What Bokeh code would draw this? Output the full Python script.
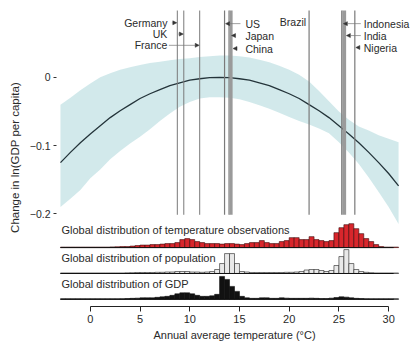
import numpy as np
from bokeh.plotting import figure
from bokeh.models import FixedTicker, Title, Arrow, NormalHead
from bokeh.core.properties import value
from bokeh.embed import file_html
from bokeh.resources import INLINE

# ---------------- data ----------------
temps = [-3, -2, -1, 0, 1, 2, 3, 4, 5, 6, 7, 8, 9, 10, 11, 12, 13, 14, 15, 16,
         17, 18, 19, 20, 21, 22, 23, 24, 25, 26, 27, 28, 29, 30, 31]
effect = [-0.125, -0.110, -0.096, -0.083, -0.071, -0.059, -0.049, -0.040, -0.031, -0.024,
          -0.018, -0.012, -0.008, -0.004, -0.002, -0.0005, 0.0, -0.0005, -0.002, -0.004,
          -0.008, -0.012, -0.018, -0.024, -0.031, -0.040, -0.049, -0.059, -0.071, -0.083,
          -0.096, -0.110, -0.125, -0.141, -0.159]
band_upper = [-0.040, -0.030, -0.019, -0.009, 0.000, 0.006, 0.011, 0.015, 0.018, 0.021,
              0.023, 0.025, 0.027, 0.028, 0.030, 0.031, 0.032, 0.032, 0.031, 0.029,
              0.026, 0.022, 0.017, 0.011, 0.004, -0.006, -0.020, -0.035, -0.050, -0.062,
              -0.072, -0.078, -0.085, -0.090, -0.095]
band_lower = [-0.190, -0.178, -0.165, -0.148, -0.135, -0.120, -0.108, -0.097, -0.087, -0.076,
              -0.064, -0.053, -0.043, -0.036, -0.031, -0.029, -0.029, -0.030, -0.032, -0.036,
              -0.041, -0.046, -0.052, -0.058, -0.064, -0.069, -0.075, -0.082, -0.095, -0.110,
              -0.127, -0.147, -0.168, -0.190, -0.215]

countries = ["Germany", "UK", "France", "US", "Japan", "China", "Brazil", "Indonesia", "India", "Nigeria"]
country_temp = [8.75, 9.4, 11.0, 13.5, 13.95, 14.15, 22.0, 25.3, 25.55, 26.6]
country_weight = [1.0, 1.0, 1.0, 1.2, 1.2, 3.2, 1.2, 1.5, 3.5, 1.2]

# histograms: bins of 0.5 degC from -3 to 31 (heights in relative units)
hist_left_edge = -3.0
hist_bin = 0.5
obs_hist = [0.5, 0.5, 0.5, 0.5, 0.5, 0.5, 0.5, 0.5, 0.5, 0.5,
            0.7, 0.8, 1, 1, 1.5, 2, 2.5, 2.5, 3, 3,
            3.5, 4, 4, 5, 8, 9, 8, 6, 5, 4,
            4, 4, 3.5, 4, 4, 3.5, 3, 4, 5, 5,
            7, 5, 4, 4, 6, 7, 10, 10, 8, 8,
            11, 8, 7, 6, 7, 15, 20, 23, 24, 19,
            14, 9, 6, 3, 1, 0.5, 0.5, 0.5]
pop_hist = [0.5, 0.5, 0.5, 0.5, 0.5, 0.5, 0.5, 0.5, 0.5, 0.5,
            0.5, 0.5, 0.5, 0.7, 0.8, 1, 1, 1, 1, 1.2,
            1.2, 1.5, 1.5, 2, 2, 2, 1.5, 1.5, 1.2, 1.5,
            2, 4, 10, 20, 20, 10, 2, 1.5, 1, 1,
            1, 1, 1, 1, 1, 1.2, 1.2, 1.5, 2, 3.5,
            4, 4, 3, 2, 3, 8, 17, 24, 10, 4,
            2, 1.2, 0.8, 0.5, 0.5, 0.5, 0.5, 0.5]
gdp_hist = [0.5, 0.5, 0.5, 0.5, 0.5, 0.5, 0.5, 0.5, 0.5, 0.5,
            0.5, 0.5, 0.6, 0.8, 1, 1.2, 1.5, 1.5, 1.5, 2,
            2.5, 3, 4, 5.5, 6.5, 6.5, 5.5, 4, 3, 3,
            3.5, 5, 23, 20, 13, 8, 3, 1.5, 1, 1,
            1.5, 1.5, 1, 1, 1.5, 1.2, 1, 1, 1, 1,
            1.2, 1, 0.8, 0.8, 1.2, 1.8, 2.5, 2.2, 1.5, 1,
            0.8, 0.6, 0.5, 0.5, 0.5, 0.5, 0.5, 0.5]
hist_titles = ["Global distribution of temperature observations",
               "Global distribution of population",
               "Global distribution of GDP"]

x_ticks = [0, 5, 10, 15, 20, 25, 30]
y_ticks = [0, -0.1, -0.2]

# ---------------- figure ----------------
FONT = "Liberation Sans"
TXT = "#2a2a2a"

p = figure(width=412, height=343, x_range=(-3.4, 32.4), y_range=(-0.336, 0.101),
           output_backend="svg", toolbar_location=None, tools="")
p.min_border_left = 55
p.min_border_right = 0
p.min_border_top = 8
p.min_border_bottom = 36
p.outline_line_color = None
p.xgrid.visible = False
p.ygrid.visible = False
p.background_fill_color = "white"
p.border_fill_color = "white"

# confidence band and response curve
p.varea(x=temps, y1=band_lower, y2=band_upper, fill_color="#cde7e9", fill_alpha=0.9)
p.line(x=temps, y=effect, line_color="#24343a", line_width=1.3)

# country lines
line_top, line_bottom = 0.098, -0.2015
for t, w in zip(country_temp, country_weight):
    col = "#9a9a9a" if w > 2 else "#7a7a7a"
    p.segment(x0=[t], x1=[t], y0=[line_top], y1=[line_bottom], line_color=col, line_width=w)

# country labels
lab_fs = "10.5px"
left_side = {"Germany": (7.75, 0.080), "UK": (7.75, 0.0635), "France": (7.75, 0.047),
             "Brazil": (21.7, 0.081)}
right_side = {"US": (15.6, 0.0788), "Japan": (15.6, 0.0613), "China": (15.6, 0.0423),
              "Indonesia": (27.5, 0.0788), "India": (27.5, 0.0613), "Nigeria": (27.5, 0.0438)}
for name, (x, y) in left_side.items():
    p.text(x=[x], y=[y], text=[name], text_align="right", text_baseline="middle",
           text_font=value(FONT), text_font_size=lab_fs, text_color=TXT)
for name, (x, y) in right_side.items():
    p.text(x=[x], y=[y], text=[name], text_align="left", text_baseline="middle",
           text_font=value(FONT), text_font_size=lab_fs, text_color=TXT)

pointers = [(8.2, 0.080, 8.7), (8.85, 0.0635, 9.35), (7.9, 0.047, 10.95),
            (15.1, 0.0788, 13.6), (14.55, 0.0613, 14.2), (14.7, 0.0423, 14.35),
            (27.2, 0.0788, 25.45), (27.2, 0.0613, 25.75), (26.95, 0.0438, 26.7)]
for xs, y, xe in pointers:
    p.add_layout(Arrow(end=NormalHead(size=4, fill_color="#333333", line_color="#333333", line_width=0.5),
                       x_start=xs, y_start=y, x_end=xe, y_end=y,
                       line_color="#777777", line_width=0.7))

# histograms
centers = hist_left_edge + hist_bin * (np.arange(len(obs_hist)) + 0.5)
HS = 1.0 / 685.0
bases = [-0.2496, -0.2876, -0.3255]
styles = [("#d8262c", "#3a0a0a"), ("#e9e9e9", "#222222"), ("#111111", "#111111")]
for hist, base, (fc, lc) in zip([obs_hist, pop_hist, gdp_hist], bases, styles):
    top = [base + h * HS for h in hist]
    p.vbar(x=centers, width=hist_bin, bottom=base, top=top, fill_color=fc,
           line_color=lc, line_width=0.6)
    p.segment(x0=[centers[0] - hist_bin / 2], x1=[centers[-1] - hist_bin / 2], y0=[base], y1=[base],
              line_color="#111111", line_width=1.0)

title_y = [-0.2237, -0.2642, -0.3036]
p.text(x=[-2.9] * 3, y=title_y, text=hist_titles, text_align="left", text_baseline="middle",
       text_font=value(FONT), text_font_size="11px", text_color=TXT)

# axes
xa = p.xaxis[0]
xa.ticker = FixedTicker(ticks=x_ticks)
xa.bounds = (0, 30)
xa.axis_label = "Annual average temperature (\u00b0C)"
xa.axis_label_text_font = FONT
xa.axis_label_text_font_size = "11px"
xa.axis_label_text_font_style = "normal"
xa.axis_label_text_color = TXT
xa.axis_label_standoff = 3
xa.major_label_text_font = FONT
xa.major_label_text_font_size = "11px"
xa.major_label_text_color = TXT
xa.major_label_standoff = 3
xa.major_tick_out = 5
xa.major_tick_in = 0
xa.minor_tick_out = 0
xa.minor_tick_in = 0
xa.axis_line_color = "#222222"
xa.major_tick_line_color = "#222222"

ya = p.yaxis[0]
ya.ticker = FixedTicker(ticks=y_ticks)
ya.axis_line_color = None
ya.major_tick_out = 3
ya.major_tick_in = 0
ya.minor_tick_out = 0
ya.minor_tick_in = 0
ya.major_tick_line_color = "#333333"
ya.major_label_text_font = FONT
ya.major_label_text_font_size = "10.5px"
ya.major_label_text_color = TXT
ya.major_label_standoff = 3
ya.major_label_overrides = {0: "0", -0.1: "\u22120.1", -0.2: "\u22120.2"}

ylab = Title(text="Change in ln(GDP per capita)", align="center", offset=30, standoff=12,
             text_font=FONT, text_font_size="11.5px", text_font_style="normal", text_color=TXT)
p.add_layout(ylab, "left")

open("out.html", "w").write(file_html(p, INLINE))
